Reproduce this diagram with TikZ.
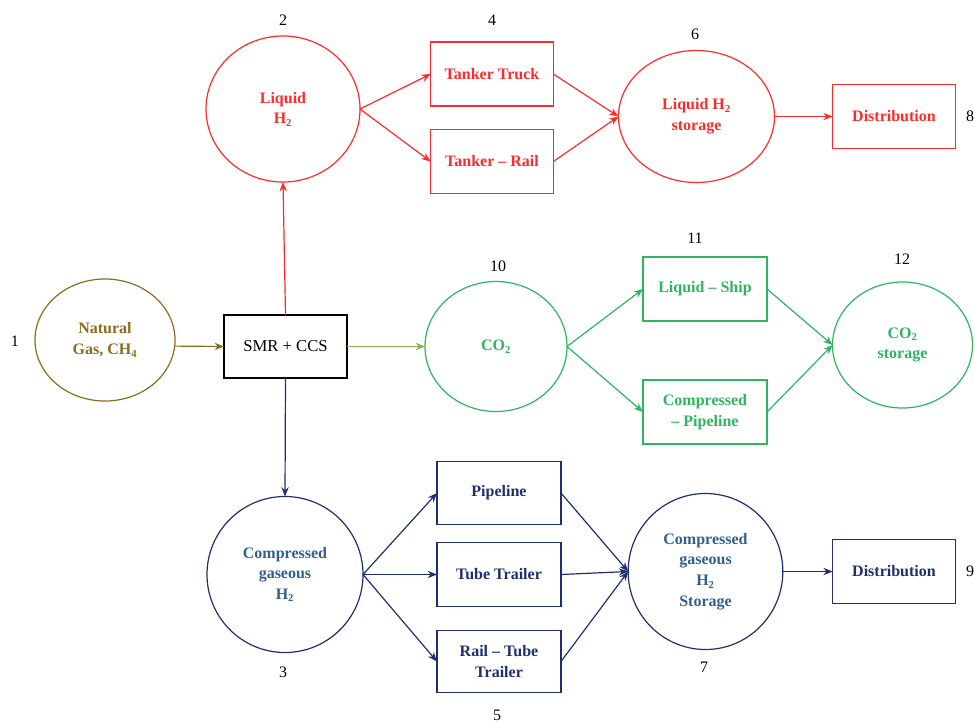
\documentclass[tikz,border=0pt]{standalone}
\usepackage{fontspec}
\setmainfont{Liberation Serif}
\usetikzlibrary{shapes.geometric,arrows.meta}
\definecolor{cred}{HTML}{FF2B2B}
\definecolor{cgreen}{HTML}{2DB55F}
\definecolor{cygreen}{HTML}{86B64E}
\definecolor{cbrown}{HTML}{8C6D1F}
\definecolor{cnavy}{HTML}{1F2F6E}
\definecolor{cblue}{HTML}{30608F}
\begin{document}
\begin{tikzpicture}[x=0.75pt,y=-0.75pt,
  base/.style={line width=0.9pt, inner sep=0pt, outer sep=0pt, align=center,
    font=\fontsize{12}{15.5}\selectfont\bfseries},
  circ/.style={base, ellipse, draw},
  box/.style={base, rectangle, draw, minimum width=92pt, minimum height=48pt},
  arr/.style={line width=0.9pt, -{Stealth[length=7pt,width=5.5pt]}},
  num/.style={font=\fontsize{12}{14}\selectfont, inner sep=0pt}]
\useasboundingbox (0,0) rectangle (975,722);

% nodes
\node[circ, draw=cbrown, text=cbrown, minimum width=105pt, minimum height=91.5pt] (c1) at (105,340) {Natural\\Gas, CH\textsubscript{4}};
\node[base, draw, rectangle, minimum width=92.25pt, minimum height=47.25pt, font=\fontsize{12.5}{15}\selectfont] (smr) at (285.5,346.5) {SMR + CCS};

\node[circ, draw=cred, text=cred, minimum width=115.5pt, minimum height=109.5pt] (c2) at (283,109) {Liquid\\H\textsubscript{2}};
\node[box, draw=cred, text=cred] (b4a) at (492,74) {Tanker Truck};
\node[box, draw=cred, text=cred] (b4b) at (492,161.5) {Tanker -- Rail};
\node[circ, draw=cred, text=cred, minimum width=117pt, minimum height=99pt] (c6) at (696.5,116.5) {Liquid H\textsubscript{2}\\storage};
\node[box, draw=cred, text=cred] (b8) at (894,116.5) {Distribution};

\node[circ, draw=cgreen, text=cgreen, minimum width=106.5pt, minimum height=97.5pt] (c10) at (496,346.5) {CO\textsubscript{2}};
\node[box, draw=cgreen, text=cgreen, minimum width=93pt] (b11a) at (705,289) {Liquid -- Ship};
\node[box, draw=cgreen, text=cgreen, minimum width=93pt] (b11b) at (705,412) {Compressed\\-- Pipeline};
\node[circ, draw=cgreen, text=cgreen, minimum width=105pt, minimum height=94.5pt] (c12) at (902.5,345) {CO\textsubscript{2}\\storage};

\node[circ, draw=cnavy, text=cblue, minimum width=117pt, minimum height=117pt] (c3) at (285,574.5) {Compressed\\gaseous\\H\textsubscript{2}};
\node[box, draw=cnavy, text=cnavy, minimum width=93pt, minimum height=47pt] (b5a) at (499,493) {Pipeline};
\node[box, draw=cnavy, text=cnavy, minimum width=93pt, minimum height=48pt] (b5b) at (499,574.5) {Tube Trailer};
\node[box, draw=cnavy, text=cnavy, minimum width=93pt, minimum height=47pt] (b5c) at (499,661.5) {Rail -- Tube\\Trailer};
\node[circ, draw=cnavy, text=cblue, minimum width=116pt, minimum height=117pt] (c7) at (705.5,571.5) {Compressed\\gaseous\\H\textsubscript{2}\\Storage};
\node[box, draw=cnavy, text=cnavy] (b9) at (894,571.5) {Distribution};

% number labels
\node[num] (n1) at (15,341) {1};
\node[num] (n2) at (283,20) {2};
\node[num] (n3) at (283,672) {3};
\node[num] (n4) at (492,20) {4};
\node[num] (n5) at (497,715) {5};
\node[num] (n6) at (695,34) {6};
\node[num] (n7) at (704,667) {7};
\node[num] (n8) at (970,116) {8};
\node[num] (n9) at (970,571) {9};
\node[num] (n10) at (498,266) {10};
\node[num] (n11) at (695,238) {11};
\node[num] (n12) at (902,259) {12};

% connectors
\draw[arr, cbrown] (c1.-5.5) -- (smr.west);
\draw[arr, cred] (smr.north) -- (c2.south);
\draw[arr, cygreen] (smr.east) -- (c10.west);
\draw[arr, cnavy] (smr.south) -- (c3.north);

\draw[arr, cred] (c2.east) -- (b4a.west);
\draw[arr, cred] (c2.east) -- (b4b.west);
\draw[arr, cred] (b4a.east) -- (c6.west);
\draw[arr, cred] (b4b.east) -- (c6.west);
\draw[arr, cred] (c6.east) -- (b8.west);

\draw[arr, cgreen] (c10.east) -- (b11a.west);
\draw[arr, cgreen] (c10.east) -- (b11b.west);
\draw[arr, cgreen] (b11a.east) -- (c12.west);
\draw[arr, cgreen] (b11b.east) -- (c12.west);

\draw[arr, cnavy] (c3.east) -- (b5a.west);
\draw[arr, cnavy] (c3.east) -- (b5b.west);
\draw[arr, cnavy] (c3.east) -- (b5c.west);
\draw[arr, cnavy] (b5a.east) -- (c7.west);
\draw[arr, cnavy] (b5b.east) -- (c7.west);
\draw[arr, cnavy] (b5c.east) -- (c7.west);
\draw[arr, cnavy] (c7.east) -- (b9.west);
\end{tikzpicture}
\end{document}
